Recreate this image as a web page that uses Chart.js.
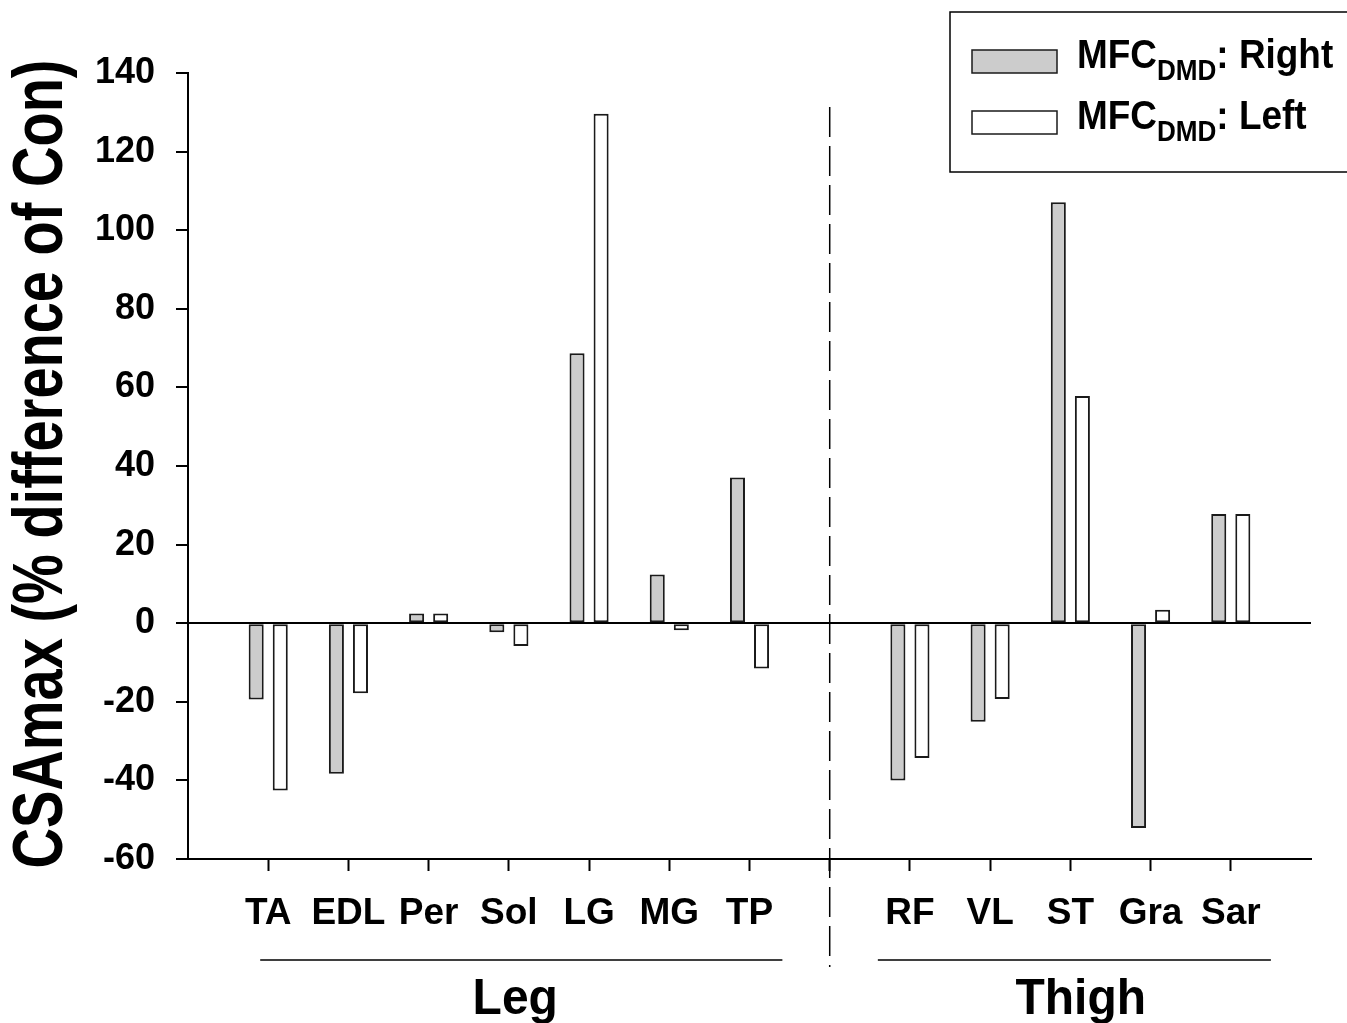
<!DOCTYPE html>
<html>
<head>
<meta charset="utf-8">
<script src="https://cdn.jsdelivr.net/npm/chart.js@4"></script>
<style>
  html, body { margin: 0; padding: 0; background: #fff; }
  canvas { display: block; }
</style>
</head>
<body>
<canvas id="myChart" width="1347" height="1023"></canvas>
<script>
// muscles, empty labels are spacers (left edge, gap between groups, right edge)
const categories = ['', 'TA', 'EDL', 'Per', 'Sol', 'LG', 'MG', 'TP', '', 'RF', 'VL', 'ST', 'Gra', 'Sar', ''];
const rightValues = [null, -19.4, -38.3, 2.5, -2.3, 68.7, 12.4, 37.1, null, -40.0, -25.1, 107.1, -52.1, 27.8, null];
const leftValues = [null, -42.6, -17.8, 2.5, -5.8, 129.6, -1.8, -11.5, null, -34.3, -19.3, 57.8, 3.4, 27.8, null];
const yTicks = [-60, -40, -20, 0, 20, 40, 60, 80, 100, 120, 140];
const groupNames = ['Leg', 'Thigh'];
const seriesNames = ['Right', 'Left'];

const FONT = '"Liberation Sans", Arial, sans-serif';

// text with a horizontal squeeze, returns drawn width
function drawText(ctx, text, x, y, size, sx, align) {
    ctx.save();
    ctx.font = 'bold ' + size + 'px ' + FONT;
    const w = ctx.measureText(text).width * sx;
    let x0 = x;
    if (align === 'center') x0 = x - w / 2;
    if (align === 'right') x0 = x - w;
    ctx.translate(x0, y);
    ctx.scale(sx, 1);
    ctx.textAlign = 'left';
    ctx.textBaseline = 'alphabetic';
    ctx.fillStyle = '#000';
    ctx.fillText(text, 0, 0);
    ctx.restore();
    return w;
}

const extras = {
    id: 'extras',
    afterDraw(chart) {
        const ctx = chart.ctx;
        const xs = chart.scales.x;
        const area = chart.chartArea;

        // dashed separator between leg and thigh
        const xGap = xs.getPixelForValue(8);
        ctx.save();
        ctx.strokeStyle = '#000';
        ctx.lineWidth = 1.5;
        ctx.setLineDash([30, 9]);
        ctx.beginPath();
        ctx.moveTo(xGap, 107);
        ctx.lineTo(xGap, 967);
        ctx.stroke();
        ctx.restore();

        // group lines and names
        ctx.save();
        ctx.strokeStyle = '#000';
        ctx.lineWidth = 1.5;
        ctx.beginPath();
        ctx.moveTo(xs.getPixelForValue(0.9), 960);
        ctx.lineTo(xs.getPixelForValue(7.41), 960);
        ctx.moveTo(xs.getPixelForValue(8.6), 960);
        ctx.lineTo(xs.getPixelForValue(13.5), 960);
        ctx.stroke();
        ctx.restore();
        drawText(ctx, groupNames[0], xs.getPixelForValue(4.08), 1014, 50, 0.96, 'center');
        drawText(ctx, groupNames[1], xs.getPixelForValue(11.13), 1014, 50, 0.96, 'center');

        // y axis title
        ctx.save();
        ctx.translate(62, (area.top + area.bottom) / 2 - 2);
        ctx.rotate(-Math.PI / 2);
        drawText(ctx, 'CSAmax (% difference of Con)', 0, 0, 70, 0.8, 'center');
        ctx.restore();

        // legend box
        ctx.save();
        ctx.strokeStyle = '#000';
        ctx.lineWidth = 1.5;
        ctx.strokeRect(950, 12, 420, 160);
        const rows = [61, 122];
        chart.data.datasets.forEach(function (ds, i) {
            const yc = rows[i];
            ctx.fillStyle = ds.backgroundColor;
            ctx.fillRect(972, yc - 11, 85, 23);
            ctx.strokeStyle = ds.borderColor;
            ctx.lineWidth = 1.5;
            ctx.strokeRect(972, yc - 11, 85, 23);
            let x = 1077;
            const base = yc + 7;
            x += drawText(ctx, 'MFC', x, base, 41, 0.9, 'left');
            x += drawText(ctx, 'DMD', x, base + 12, 29, 0.9, 'left');
            drawText(ctx, ': ' + seriesNames[i], x, base, 41, 0.9, 'left');
        });
        ctx.restore();
    }
};

const ctx = document.getElementById('myChart').getContext('2d');

let myChart = new Chart(ctx, {
    type: 'bar',
    data: {
        labels: categories,
        datasets: [{
            label: 'MFC DMD: Right',
            data: rightValues,
            backgroundColor: '#cccccc',
            borderColor: '#1a1a1a',
            borderWidth: 2,
            borderSkipped: false
        }, {
            label: 'MFC DMD: Left',
            data: leftValues,
            backgroundColor: '#ffffff',
            borderColor: '#1a1a1a',
            borderWidth: 2,
            borderSkipped: false
        }]
    },
    options: {
        responsive: false,
        animation: false,
        categoryPercentage: 0.6,
        barPercentage: 0.625,
        layout: { padding: { top: 73, right: 36, left: 0, bottom: 0 } },
        plugins: {
            legend: { display: false },
            tooltip: { enabled: false }
        },
        scales: {
            x: {
                type: 'category',
                offset: false,
                afterFit: function (s) { s.height = 164; },
                grid: {
                    offset: false,
                    drawOnChartArea: false,
                    drawTicks: true,
                    tickLength: 12,
                    tickWidth: 2,
                    tickColor: function (c) {
                        return (c.index === 0 || c.index === categories.length - 1) ? 'rgba(0,0,0,0)' : '#000';
                    }
                },
                border: { display: true, color: '#000', width: 2 },
                ticks: {
                    autoSkip: false,
                    maxRotation: 0,
                    padding: 21,
                    color: '#000',
                    font: { family: FONT, size: 37, weight: 'bold' }
                }
            },
            y: {
                min: -60,
                max: 140,
                afterFit: function (s) { s.width = 188; },
                afterBuildTicks: function (s) {
                    s.ticks = yTicks.map(function (v) { return { value: v }; });
                },
                grid: {
                    drawOnChartArea: true,
                    drawTicks: true,
                    tickLength: 12,
                    tickWidth: 2,
                    tickColor: '#000',
                    lineWidth: 2,
                    color: function (c) {
                        return (c.tick && c.tick.value === 0) ? '#000' : 'rgba(0,0,0,0)';
                    }
                },
                border: { display: true, color: '#000', width: 2 },
                ticks: {
                    padding: 21,
                    color: '#000',
                    font: { family: FONT, size: 36, weight: 'bold' }
                }
            }
        }
    },
    plugins: [extras]
});
</script>
</body>
</html>
